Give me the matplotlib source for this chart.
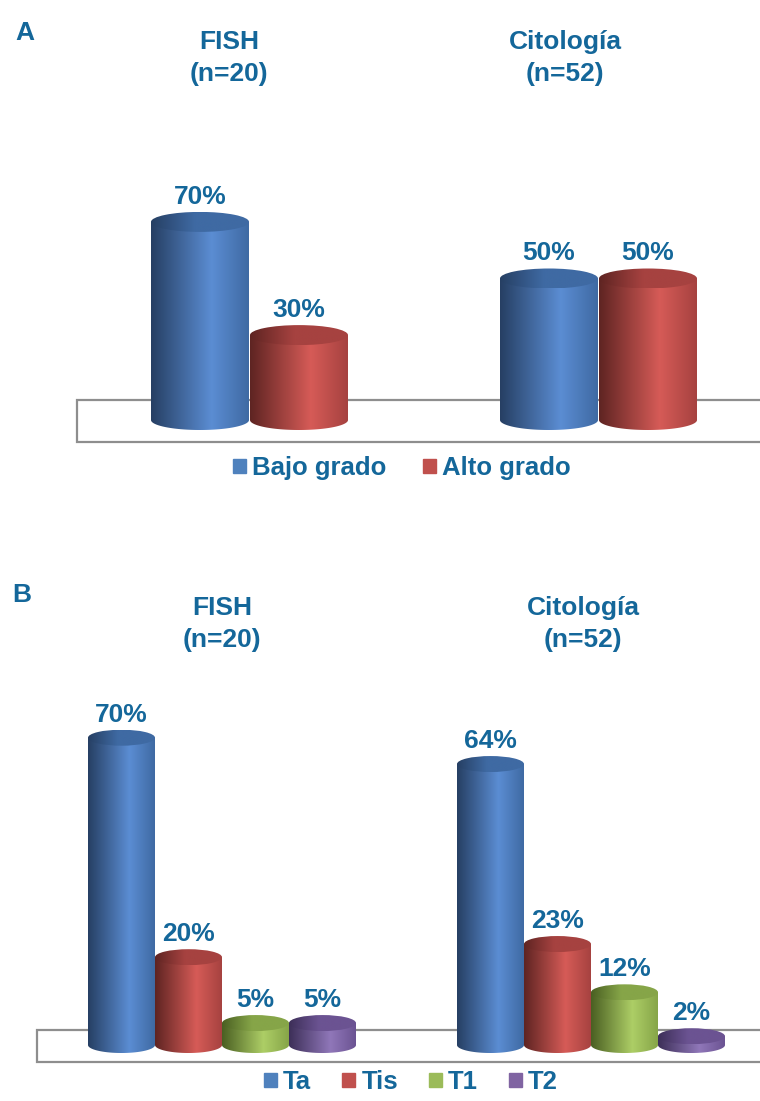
import matplotlib.pyplot as plt
import numpy as np
from matplotlib.patches import Polygon, Ellipse, Rectangle, Patch
from matplotlib.colors import LinearSegmentedColormap

W, H = 760, 1101
TXT = '#14679A'
FS = 19
plt.rcParams['font.family'] = ['Liberation Sans', 'DejaVu Sans']
plt.rcParams['font.weight'] = 'bold'

# Panel A: grade
grupos = ['FISH\n(n=20)', 'Citología\n(n=52)']
grado_labels = ['Bajo grado', 'Alto grado']
bajo_grado = [70, 50]
alto_grado = [30, 50]

# Panel B: stage
estadio_labels = ['Ta', 'Tis', 'T1', 'T2']
fish_estadio = [70, 20, 5, 5]
cito_estadio = [64, 23, 12, 2]

# fill shades: (left edge, highlight, right edge, flat legend colour)
shades = {
    'blue':   ('#263F63', '#5B8DD3', '#3F6AA3', '#4F81BD'),
    'red':    ('#5E2422', '#D65B57', '#A64240', '#C0504D'),
    'green':  ('#4A5F22', '#ADCE66', '#86A548', '#9BBB59'),
    'purple': ('#3D2F58', '#9077B9', '#6B5392', '#8064A2'),
}


def px(x, y):
    return x / W, 1 - y / H


def panel_axes(fig, top, bot, base, ppp):
    ax = fig.add_axes([0, 1 - bot / H, 1, (bot - top) / H])
    ax.set_xlim(0, W)
    ax.set_ylim((base - bot) / ppp, (base - top) / ppp)
    ax.axis('off')
    return ax


def cylinder(ax, xc, w, v, h, name, z):
    dark, light, right, _ = shades[name]
    cmap = LinearSegmentedColormap.from_list(
        name, [(0, dark), (0.62, light), (1, right)])
    x0, x1 = xc - w / 2, xc + w / 2
    t = np.linspace(0, np.pi, 80)
    arc = np.column_stack([xc + w / 2 * np.cos(t), -h * np.sin(t)])
    pts = np.vstack([arc, [[x0, v], [x1, v]]])
    body = Polygon(pts, closed=True, transform=ax.transData)
    grad = np.linspace(0, 1, 256).reshape(1, -1)
    im = ax.imshow(grad, cmap=cmap, extent=[x0, x1, -h, v], aspect='auto',
                   interpolation='bilinear', zorder=z)
    im.set_clip_path(body)
    # top cap, a bit darker than the side
    cap_cmap = LinearSegmentedColormap.from_list(
        name + '_cap', [(0, dark), (0.45, right), (1, right)])
    cap = Ellipse((xc, v), w, 2 * h, transform=ax.transData)
    im2 = ax.imshow(grad, cmap=cap_cmap, extent=[x0, x1, v - h, v + h],
                    aspect='auto', interpolation='bilinear', zorder=z + 0.5)
    im2.set_clip_path(cap)


def floor(ax, x0, top, bot):
    ax.add_patch(Rectangle((x0, bot), W - x0 + 20, top - bot,
                           facecolor='white', edgecolor='#8E8E8E', lw=1.6,
                           zorder=1, clip_on=False))


def value_label(ax, xc, v, off):
    ax.annotate(f'{v}%', (xc, v), xytext=(0, off * 0.72),
                textcoords='offset points', ha='center', va='center',
                fontsize=FS, color=TXT, zorder=10)


fig = plt.figure(figsize=(W / 100, H / 100), dpi=100)

# ---- A ----
ppp_a = 2.83
ax_a = panel_axes(fig, 100, 450, 420, ppp_a)
h_a = 10 / ppp_a
floor(ax_a, 77, 20 / ppp_a, -22 / ppp_a)
for i, (b, a) in enumerate(zip(bajo_grado, alto_grado)):
    left = [200, 549][i]
    cylinder(ax_a, left, 98, b, h_a, 'blue', 3 + i * 4)
    cylinder(ax_a, left + 99, 98, a, h_a, 'red', 5 + i * 4)
    value_label(ax_a, left, b, 25)
    value_label(ax_a, left + 99, a, 25)

fig.text(*px(25, 33), 'A', fontsize=FS, color=TXT, ha='center', va='center')
for xc, g in zip([229, 565], grupos):
    fig.text(*px(xc, 58), g, fontsize=FS, color=TXT, ha='center',
             va='center', linespacing=1.4)

fig.legend(handles=[Patch(color=shades[c][3]) for c in ['blue', 'red']],
           labels=grado_labels, loc='center', bbox_to_anchor=px(402, 468),
           ncol=2, frameon=False, fontsize=18.5, labelcolor=TXT,
           handlelength=0.5, handleheight=0.5, handletextpad=0.25,
           columnspacing=1.4)

# ---- B ----
ppp_b = 4.39
ax_b = panel_axes(fig, 660, 1068, 1045, ppp_b)
h_b = 8 / ppp_b
floor(ax_b, 37, 15 / ppp_b, -17 / ppp_b)
names = ['blue', 'red', 'green', 'purple']
for g, (start, vals) in enumerate(zip([121.5, 490.5], [fish_estadio, cito_estadio])):
    for k, v in enumerate(vals):
        xc = start + k * 67
        cylinder(ax_b, xc, 67, v, h_b, names[k], 3 + g * 10 + k * 2)
        value_label(ax_b, xc, v, 23)

fig.text(*px(22, 595), 'B', fontsize=FS, color=TXT, ha='center', va='center')
for xc, g in zip([222, 583], grupos):
    fig.text(*px(xc, 624), g, fontsize=FS, color=TXT, ha='center',
             va='center', linespacing=1.4)

fig.legend(handles=[Patch(color=shades[c][3]) for c in names],
           labels=estadio_labels, loc='center', bbox_to_anchor=px(411, 1082),
           ncol=4, frameon=False, fontsize=18.5, labelcolor=TXT,
           handlelength=0.5, handleheight=0.5, handletextpad=0.25,
           columnspacing=1.2)

fig.savefig('out.png', dpi=100, facecolor='white')
